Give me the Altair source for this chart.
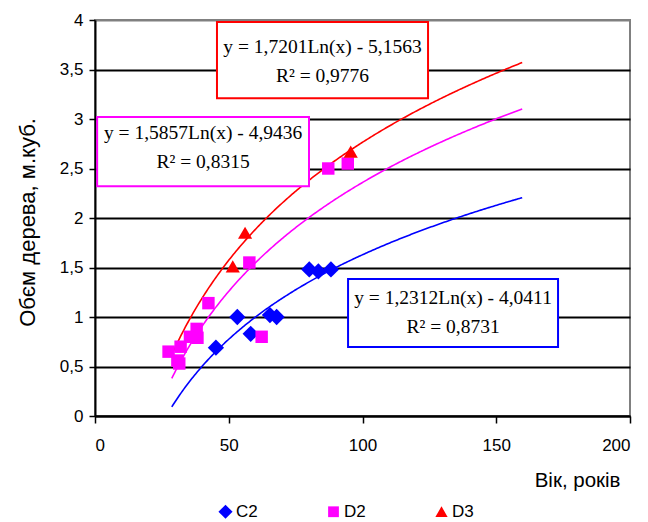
import altair as alt
import pandas as pd

# ---- data ----
c2_x = [45.2, 53.2, 58.2, 65.4, 67.9, 80.1, 83.5, 88.2]
c2_y = [0.69, 1.00, 0.83, 1.02, 1.00, 1.48, 1.46, 1.48]
d2_x = [27.5, 30.8, 31.5, 32.0, 35.5, 38.0, 38.3, 42.4, 57.7, 62.3, 87.2, 94.5]
d2_y = [0.65, 0.56, 0.53, 0.70, 0.80, 0.88, 0.79, 1.14, 1.55, 0.80, 2.50, 2.55]
d3_x = [51.5, 56.1, 95.6]
d3_y = [1.51, 1.85, 2.67]

series = ["C2", "D2", "D3"]
colors = ["#0000FF", "#FF00FF", "#FF0000"]
# marker outlines in unit symbol coordinates (diamond, square, triangle)
shapes = [
    "M0,-1.15L1.15,0L0,1.15L-1.15,0Z",
    "M-0.88,-0.88L0.88,-0.88L0.88,0.88L-0.88,0.88Z",
    "M0,-0.88L1,0.85L-1,0.85Z",
]

# trendline coefficients shown on the chart: y = a*Ln(x) + b
slope = [1.2312, 1.5857, 1.7201]
intercept = [-4.0411, -4.9436, -5.1563]
trend_start = 28.7
trend_end = 160
eq_text = ["y = 1,2312Ln(x) - 4,0411", "y = 1,5857Ln(x) - 4,9436", "y = 1,7201Ln(x) - 5,1563"]
r2_text = ["R² = 0,8731", "R² = 0,8315", "R² = 0,9776"]

# annotation boxes (data units)
box_x1 = [94.6, 0.8, 45.6]
box_x2 = [173.1, 80.0, 124.5]
box_y1 = [1.384, 3.02, 3.98]
box_y2 = [0.697, 2.32, 3.21]
line1_y = [1.19, 2.86, 3.73]
line2_y = [0.90, 2.566, 3.43]

# ---- tables ----
pts = pd.DataFrame(
    {"x": c2_x + d2_x + d3_x,
     "y": c2_y + d2_y + d3_y,
     "series": ["C2"] * len(c2_x) + ["D2"] * len(d2_x) + ["D3"] * len(d3_x)}
)
boxes = pd.DataFrame({
    "series": series, "x1": box_x1, "x2": box_x2, "y1": box_y1, "y2": box_y2,
    "cx": [(a + b) / 2 for a, b in zip(box_x1, box_x2)],
    "t1": line1_y, "t2": line2_y, "eq": eq_text, "r2": r2_text,
})

xscale = alt.Scale(domain=[0, 200], nice=False)
yscale = alt.Scale(domain=[0, 4], nice=False)

xaxis = alt.Axis(
    values=[0, 50, 100, 150, 200], grid=False, title="Вік, років",
    titleX=525, titleY=64, titleAlign="right", titleBaseline="middle",
    titleFont="Liberation Sans", titleFontSize=20.5, titleFontWeight="normal", titleColor="black",
    labelFont="Liberation Sans", labelFontSize=17, labelColor="black", labelPadding=14,
    tickSize=7, tickColor="black", tickWidth=1.5, domainColor="black", domainWidth=2,
)
yaxis = alt.Axis(
    values=[0, 0.5, 1, 1.5, 2, 2.5, 3, 3.5, 4], grid=True,
    gridColor={"condition": {"test": "datum.value == 4", "value": "#808080"}, "value": "black"},
    gridWidth=2,
    labelExpr="replace(format(datum.value, '~g'), '.', ',')",
    title="Обєм дерева, м.куб.", titleX=-68, titleY=202, titleAngle=270,
    titleAlign="center", titleBaseline="middle",
    titleFont="Liberation Sans", titleFontSize=22, titleFontWeight="normal", titleColor="black",
    labelFont="Liberation Sans", labelFontSize=17, labelColor="black", labelPadding=6,
    tickSize=6, tickColor="black", tickWidth=1.5, domainColor="black", domainWidth=2,
)

layers = []

# trendlines, one layer per series, computed from the shown coefficients
for s, a, b, c in zip(series, slope, intercept, colors):
    layers.append(
        alt.Chart(alt.sequence(trend_start, trend_end + 0.01, 0.5, as_="x"))
        .transform_calculate(y=f"{a}*log(datum.x) + ({b})")
        .mark_line(strokeWidth=1.6, color=c)
        .encode(x=alt.X("x:Q", scale=xscale, axis=xaxis),
                y=alt.Y("y:Q", scale=yscale, axis=yaxis))
    )

# points with legend
layers.append(
    alt.Chart(pts).mark_point(filled=True, opacity=1, size=200).encode(
        x=alt.X("x:Q", scale=xscale),
        y=alt.Y("y:Q", scale=yscale),
        color=alt.Color("series:N", scale=alt.Scale(domain=series, range=colors),
                        legend=alt.Legend(title=None, orient="none", legendX=122, legendY=483,
                                          direction="horizontal", columnPadding=67,
                                          labelFont="Liberation Sans", labelFontSize=17,
                                          labelColor="black", labelOffset=2,
                                          symbolSize=150, symbolStrokeWidth=0)),
        shape=alt.Shape("series:N", scale=alt.Scale(domain=series, range=shapes)),
    )
)

# equation boxes
for s, c in zip(series, colors):
    sub = boxes[boxes["series"] == s]
    layers.append(
        alt.Chart(sub).mark_rect(fill="white", stroke=c, strokeWidth=2).encode(
            x="x1:Q", x2="x2:Q", y="y1:Q", y2="y2:Q")
    )
layers.append(
    alt.Chart(boxes).mark_text(font="Liberation Serif", fontSize=19.5, color="black").encode(
        x="cx:Q", y="t1:Q", text="eq:N")
)
layers.append(
    alt.Chart(boxes).mark_text(font="Liberation Serif", fontSize=19.5, color="black").encode(
        x="cx:Q", y="t2:Q", text="r2:N")
)

chart = (
    alt.layer(*layers)
    .properties(width=535, height=396,
                autosize=alt.AutoSizeParams(type="none"),
                padding={"left": 95, "top": 20, "right": 18, "bottom": 106})
    .configure_view(stroke="#808080", strokeWidth=2)
    .configure_axis(zindex=1)
)

chart.save("out.html", embed_options={"renderer": "svg", "actions": False})
